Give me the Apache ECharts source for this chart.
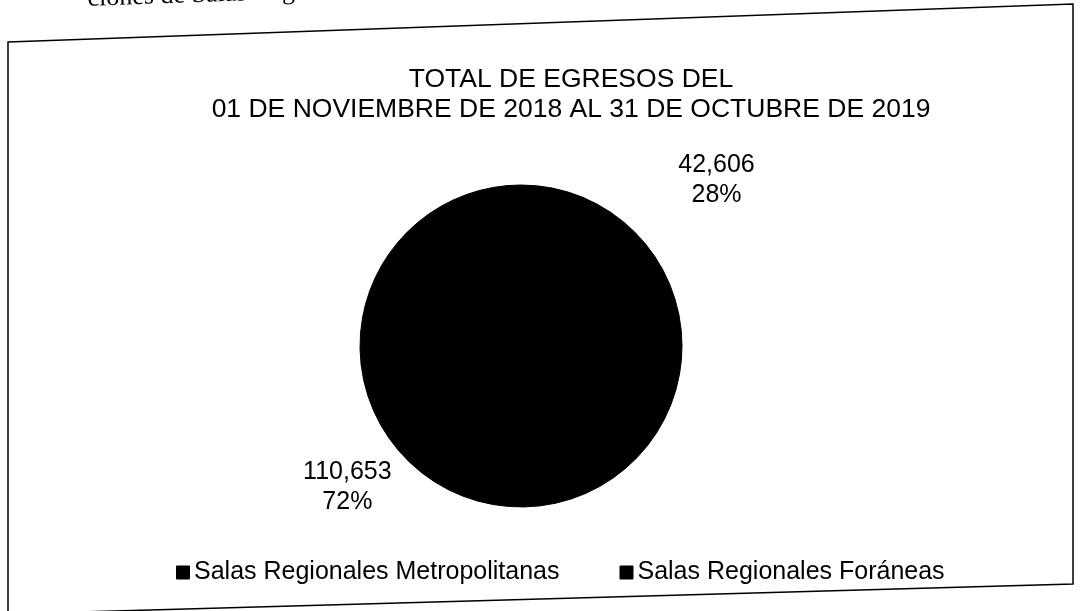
<!DOCTYPE html>
<html>
<head>
<meta charset="utf-8">
<script src="https://cdn.jsdelivr.net/npm/echarts@6/dist/echarts.min.js"></script>
<style>
html,body{margin:0;padding:0;background:#fff;}
#chart{width:1081px;height:611px;}
</style>
</head>
<body>
<div id="chart"></div>
<script>
// Data
const titleLines = ['TOTAL DE EGRESOS DEL', '01 DE NOVIEMBRE DE 2018 AL 31 DE OCTUBRE DE 2019'];
const pieNames = ['Salas Regionales Foráneas', 'Salas Regionales Metropolitanas'];
const pieValues = [42606, 110653];
const legendOrder = ['Salas Regionales Metropolitanas', 'Salas Regionales Foráneas'];
const pageFragment = 'ciones de Salas Regionales Metropolitanas';

const labelLengths = [98, 59];
const labelGaps = [-3, 5];
const FONT = '"Liberation Sans", Arial, sans-serif';

const chart = echarts.init(document.getElementById('chart'), null, {renderer: 'canvas'});

const data = pieNames.map((n, i) => ({
  name: n,
  value: pieValues[i],
  label: {distanceToLabelLine: labelGaps[i]},
  labelLine: {length: labelLengths[i], length2: 0, show: false}
}));

chart.setOption({
  backgroundColor: '#ffffff',
  animation: false,
  title: {
    text: titleLines.join('\n'),
    left: 566,
    top: 60,
    textAlign: 'center',
    textStyle: {fontFamily: FONT, fontSize: 26.5, fontWeight: 'normal', color: '#000', lineHeight: 30}
  },
  legend: {
    data: legendOrder,
    left: 171,
    top: 555,
    itemWidth: 12,
    itemHeight: 12,
    itemGap: 60,
    icon: 'rect',
    textStyle: {fontFamily: FONT, fontSize: 25, color: '#000'}
  },
  graphic: [
    {
      type: 'polygon',
      shape: {points: [[8, 42], [1073, 4], [1073, 584], [8, 614]]},
      style: {fill: 'none', stroke: '#000', lineWidth: 1.5},
      silent: true, z: 0
    },
    {
      type: 'text',
      x: 88, y: 12,
      rotation: 0.035,
      style: {text: pageFragment, font: '26px "Liberation Serif", "DejaVu Serif", serif', fill: '#000', verticalAlign: 'bottom'},
      silent: true
    }
  ],
  series: [{
    type: 'pie',
    center: [521, 346],
    radius: 161,
    startAngle: 90,
    clockwise: true,
    avoidLabelOverlap: false,
    color: ['#000000', '#000000'],
    itemStyle: {borderWidth: 1, borderColor: '#000000'},
    label: {
      show: true,
      position: 'outside',
      fontFamily: FONT,
      fontSize: 25,
      lineHeight: 30,
      color: '#000',
      formatter: p => p.value.toLocaleString('en-US') + '\n' + Math.round(p.percent) + '%'
    },
    labelLine: {show: false, length2: 0},
    labelLayout: () => ({align: 'center', verticalAlign: 'middle'}),
    emphasis: {disabled: true},
    data: data
  }]
});
</script>
</body>
</html>
